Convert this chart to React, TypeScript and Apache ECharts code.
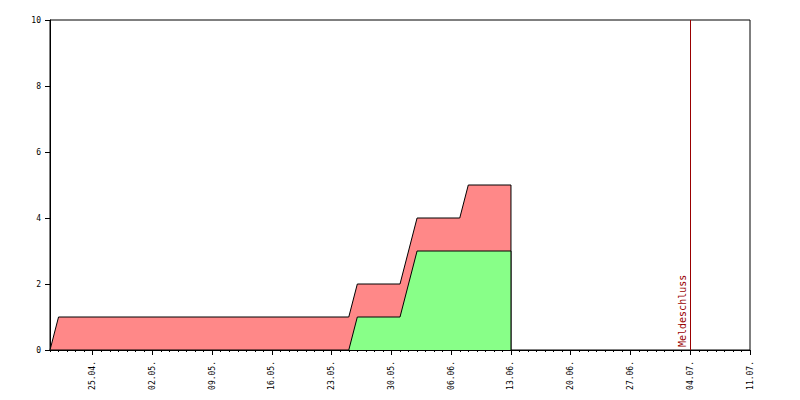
import React, { useEffect, useRef } from "react";
import * as echarts from "echarts";

// x = day index counted from 20.04. (day 0) to 11.07. (day 82)
const dayMax = 82;
const tickDays = [5, 12, 19, 26, 33, 40, 47, 54, 61, 68, 75, 82];
const tickLabels = ["25.04.", "02.05.", "09.05.", "16.05.", "23.05.", "30.05.", "06.06.", "13.06.", "20.06.", "27.06.", "04.07.", "11.07."];

const totalDays = [0, 1, 35, 36, 41, 43, 48, 49, 54, 54];
const totalValues = [0, 1, 1, 2, 2, 4, 4, 5, 5, 0];

const paidDays = [0, 35, 36, 41, 43, 54, 54];
const paidValues = [0, 0, 1, 1, 3, 3, 0];

const deadlineDay = 75;
const deadlineLabel = "Meldeschluss";

const yTicks = [0, 2, 4, 6, 8, 10];

const font = "'DejaVu Sans Mono', monospace";

export default function App() {
  const ref = useRef<HTMLDivElement>(null);
  useEffect(() => {
    if (!ref.current) return;
    const chart = echarts.init(ref.current, undefined, { renderer: "svg" });
    chart.setOption({
      animation: false,
      backgroundColor: "#ffffff",
      grid: {
        left: 50,
        right: 50,
        top: 20,
        bottom: 50,
        show: true,
        borderColor: "#000",
        borderWidth: 1,
        backgroundColor: "#fff",
      },
      xAxis: [
        {
          type: "value",
          min: 0,
          max: dayMax,
          position: "bottom",
          splitLine: { show: false },
          axisLine: { show: true, lineStyle: { color: "#000", width: 1 } },
          axisTick: {
            show: true,
            length: 5,
            inside: false,
            customValues: tickDays,
            lineStyle: { color: "#000", width: 1 },
          },
          axisLabel: {
            customValues: tickDays,
            rotate: 90,
            margin: 11,
            color: "#000",
            fontFamily: font,
            fontSize: 8,
            formatter: (v: number) => {
              const i = tickDays.indexOf(Math.round(v));
              return i >= 0 ? tickLabels[i] : "";
            },
          },
        },
        {
          type: "value",
          min: 0,
          max: dayMax,
          interval: 1,
          position: "bottom",
          splitLine: { show: false },
          axisLine: { show: false },
          axisTick: { show: true, length: 2, lineStyle: { color: "#000", width: 1 } },
          axisLabel: { show: false },
        },
      ],
      yAxis: {
        type: "value",
        min: 0,
        max: 10,
        interval: 2,
        splitLine: { show: false },
        axisLine: { show: true, lineStyle: { color: "#000", width: 1 } },
        axisTick: { show: true, length: 5, lineStyle: { color: "#000", width: 1 } },
        axisLabel: {
          color: "#000",
          fontFamily: font,
          fontSize: 8,
          margin: 9,
          formatter: (v: number) => (yTicks.includes(v) ? String(v) : ""),
        },
      },
      series: [
        {
          type: "line",
          xAxisIndex: 0,
          data: totalDays.map((d, i) => [d, totalValues[i]]),
          symbol: "none",
          lineStyle: { color: "#000", width: 1 },
          areaStyle: { color: "#ff8888", opacity: 1 },
          z: 2,
          markLine: {
            silent: true,
            symbol: "none",
            data: [{ xAxis: deadlineDay }],
            lineStyle: { color: "#990000", width: 1, type: "solid" },
            label: {
              show: true,
              formatter: deadlineLabel,
              position: "insideStartTop",
              color: "#990000",
              fontFamily: font,
              fontSize: 10,
              distance: [3, 3],
            },
          },
        },
        {
          type: "line",
          xAxisIndex: 0,
          data: paidDays.map((d, i) => [d, paidValues[i]]),
          symbol: "none",
          lineStyle: { color: "#000", width: 1 },
          areaStyle: { color: "#88ff88", opacity: 1 },
          z: 3,
        },
      ],
    });
    return () => chart.dispose();
  }, []);
  return (
    <div
      ref={ref}
      style={{ position: "fixed", left: 0, top: 0, width: 800, height: 400, background: "#fff" }}
    />
  );
}
